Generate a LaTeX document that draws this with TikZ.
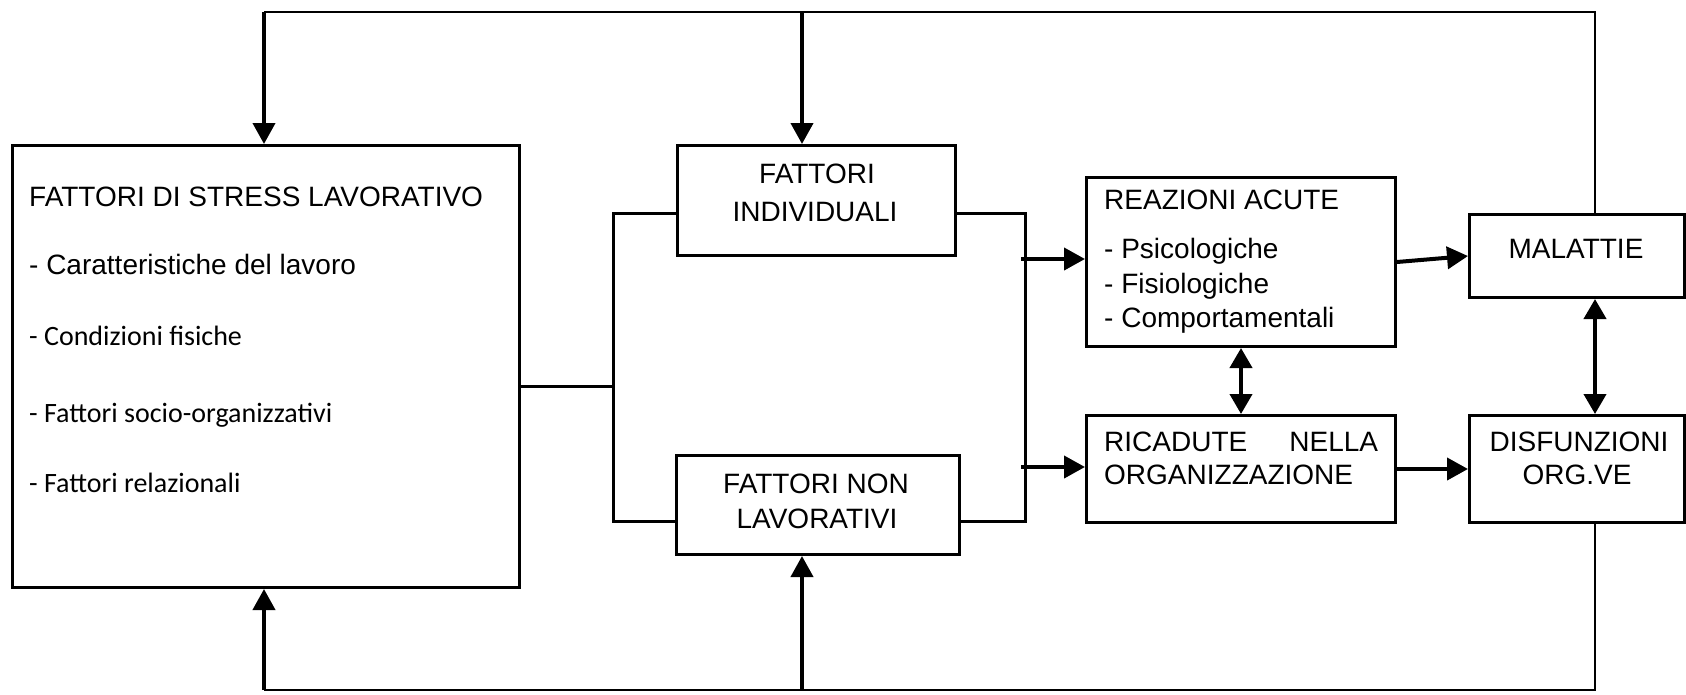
\documentclass[tikz,border=0pt]{standalone}
\usepackage{fontspec}
\setmainfont{Liberation Sans}
\newfontfamily\calibfont{Carlito}
\usetikzlibrary{arrows.meta}
\begin{document}
\begin{tikzpicture}[x=1pt,y=-1pt,
  box/.style={draw,line width=3pt,inner sep=0pt,anchor=north west},
  txt/.style={inner sep=0pt,font=\fontsize{28}{34}\selectfont},
  ctxt/.style={inner sep=0pt,font=\fontsize{28}{34}\selectfont\calibfont},
  link/.style={line width=3pt},
  arr/.style={line width=4pt,-{Triangle[length=21pt,width=22pt]}},
  darr/.style={line width=4pt,{Triangle[length=20pt,width=22pt]}-{Triangle[length=20pt,width=22pt]}},
  fb/.style={line width=2.5pt}]
\useasboundingbox[fill=white] (0,0) rectangle (1686,694);

% boxes
\node[box,minimum width=507pt,minimum height=442pt] (stress) at (11,144) {};
\node[box,minimum width=278pt,minimum height=110pt] (indiv) at (676,144) {};
\node[box,minimum width=283pt,minimum height=99pt] (nonlav) at (675,454) {};
\node[box,minimum width=309pt,minimum height=169pt] (reaz) at (1085,176) {};
\node[box,minimum width=309pt,minimum height=107pt] (ricad) at (1085,414) {};
\node[box,minimum width=215pt,minimum height=83pt] (malat) at (1468,213) {};
\node[box,minimum width=215pt,minimum height=107pt] (disf) at (1468,414) {};

% texts
\node[txt,anchor=base west] (s0) at (29,206) {FATTORI DI STRESS LAVORATIVO};
\node[txt,anchor=base west] (s1) at (29,274) {- Caratteristiche del lavoro};
\node[ctxt,anchor=base west] (s2) at (29,345) {- Condizioni fisiche};
\node[ctxt,anchor=base west] (s3) at (29,422) {- Fattori socio-organizzativi};
\node[ctxt,anchor=base west] (s4) at (29,492) {- Fattori relazionali};

\node[txt,anchor=base] (i1) at (817,183) {FATTORI};
\node[txt,anchor=base] (i2) at (815,221) {INDIVIDUALI};
\node[txt,anchor=base] (n1) at (816,493) {FATTORI NON};
\node[txt,anchor=base] (n2) at (817,528) {LAVORATIVI};

\node[txt,anchor=base west] (r0) at (1104,209) {REAZIONI ACUTE};
\node[txt,anchor=base west] (r1) at (1104,258) {- Psicologiche};
\node[txt,anchor=base west] (r2) at (1104,293) {- Fisiologiche};
\node[txt,anchor=base west] (r3) at (1104,327) {- Comportamentali};

\node[txt,anchor=base west] (c1) at (1104,451) {\hbox to 274pt{RICADUTE\hfill NELLA}};
\node[txt,anchor=base west] (c2) at (1104,484) {ORGANIZZAZIONE};

\node[txt,anchor=base] (m1) at (1576,258) {MALATTIE};
\node[txt,anchor=base] (d1) at (1579,451) {DISFUNZIONI};
\node[txt,anchor=base] (d2) at (1577,484) {ORG.VE};

% coordinates
\coordinate (jL1) at (613,213);
\coordinate (jLm) at (613,386);
\coordinate (jL2) at (613,521);
\coordinate (jR1) at (1025,213);
\coordinate (jR2) at (1025,521);
\coordinate (jA) at (1021,259);
\coordinate (jB) at (1021,467);
\coordinate (tR) at (1595,12);
\coordinate (tL) at (264,12);
\coordinate (tM) at (802,12);
\coordinate (bR) at (1595,690);
\coordinate (bL) at (264,690);
\coordinate (bM) at (802,690);

% links
\draw[link] (stress.east |- jLm) -- (jLm);
\draw[link] (indiv.west |- jL1) -- (jL1) -- (jL2) -- (nonlav.west |- jL2);
\draw[link] (indiv.east |- jR1) -- (jR1) -- (jR2) -- (nonlav.east |- jR2);
\draw[arr] (jA) -- (jA -| reaz.west);
\draw[arr] (jB) -- (jB -| ricad.west);
\draw[arr] (reaz.east) -- (malat.west);
\draw[arr] (ricad.east) -- (disf.west);
\draw[darr] (reaz.south) -- (ricad.north);
\draw[darr] (malat.south -| tR) -- (disf.north -| tR);

% feedback loops
\draw[fb] (malat.north -| tR) -- (tR) -- (tL);
\draw[arr] (tL) -- (stress.north -| tL);
\draw[arr] (tM) -- (indiv.north -| tM);
\draw[fb] (disf.south -| bR) -- (bR) -- (bL);
\draw[arr] (bL) -- (stress.south -| bL);
\draw[arr] (bM) -- (nonlav.south -| bM);
\end{tikzpicture}
\end{document}
